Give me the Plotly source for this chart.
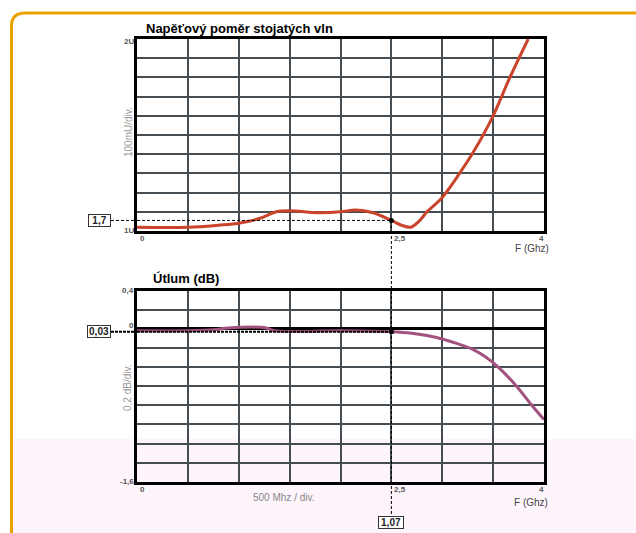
import plotly.graph_objects as go

# ---------------- data ----------------
swr_freq = [0, 0.5, 0.8, 1.0, 1.2, 1.37, 1.5, 1.79, 2.0, 2.15, 2.32, 2.5, 2.6, 2.69,
            2.77, 2.85, 3.0, 3.17, 3.31, 3.5, 3.665, 3.845]
swr_vals = [1.02, 1.02, 1.03, 1.04, 1.065, 1.10, 1.105, 1.095, 1.10, 1.11, 1.095, 1.055,
            1.03, 1.02, 1.05, 1.10, 1.175, 1.30, 1.415, 1.60, 1.80, 2.0]

att_freq = [0, 0.5, 0.75, 0.9, 1.27, 1.35, 2.0, 2.5, 2.7, 2.85, 3.0, 3.15, 3.29, 3.42,
            3.55, 3.73, 3.88, 4.0]
att_vals = [-0.02, -0.02, -0.01, 0.01, 0.01, -0.02, -0.02, -0.03, -0.045, -0.07, -0.105,
            -0.155, -0.21, -0.29, -0.4, -0.6, -0.8, -0.95]

marker_freq = 2.5
swr_marker = 1.055
att_marker = -0.03
swr_label = "1,7"
att_label = "0,03"
freq_label = "1,07"

top_title = "Napěťový poměr stojatých vln"
bottom_title = "Útlum (dB)"
top_ytitle = "100mU/div."
bottom_ytitle = "0,2 dB/div."
x_note = "500 Mhz / div."
x_title = "F (Ghz)"

top_yticks = [(2.0, "2U"), (1.0, "1U")]
bottom_yticks = [(0.4, "0,4"), (0.0, "0"), (-1.6, "-1,6")]
x_ticks = [(0, "0"), (2.5, "2,5"), (4, "4")]

# ---------------- layout geometry ----------------
W, H = 636, 533
def px(x):
    return x / W
def py(y):
    return 1 - y / H

xdom = [px(137), px(544)]
ytop_dom = [py(231), py(39)]
ybot_dom = [py(481.7), py(290.7)]

FONT = "Liberation Sans, Arial, sans-serif"
GRID = "#454d52"
SWR_COLOR = "#c9442b"
ATT_COLOR = "#a3527f"
BORDER = "#eaa200"
PINK = "#fdf4fc"

fig = go.Figure()
fig.add_trace(go.Scatter(x=swr_freq, y=swr_vals, mode="lines",
                         line=dict(color=SWR_COLOR, width=3, shape="spline", smoothing=1.0),
                         xaxis="x", yaxis="y", hoverinfo="skip"))
fig.add_trace(go.Scatter(x=att_freq, y=att_vals, mode="lines",
                         line=dict(color=ATT_COLOR, width=3, shape="spline", smoothing=1.0),
                         xaxis="x2", yaxis="y2", hoverinfo="skip"))
fig.add_trace(go.Scatter(x=[marker_freq], y=[swr_marker], mode="markers",
                         marker=dict(color="black", size=5), xaxis="x", yaxis="y",
                         hoverinfo="skip", cliponaxis=False))
fig.add_trace(go.Scatter(x=[marker_freq], y=[att_marker], mode="markers",
                         marker=dict(color="black", size=5), xaxis="x2", yaxis="y2",
                         hoverinfo="skip", cliponaxis=False))

axis_common = dict(showgrid=True, gridcolor=GRID, gridwidth=1.5, showline=True,
                   linecolor="black", linewidth=2.5, mirror=True, ticks="",
                   showticklabels=False, zeroline=False, fixedrange=True)

fig.update_layout(
    width=W, height=H, autosize=False,
    margin=dict(l=0, r=0, t=0, b=0),
    paper_bgcolor="white", plot_bgcolor="rgba(0,0,0,0)",
    showlegend=False,
    font=dict(family=FONT),
    xaxis=dict(domain=xdom, range=[0, 4], dtick=0.5, tick0=0, anchor="y", **axis_common),
    yaxis=dict(domain=ytop_dom, range=[1, 2], dtick=0.1, tick0=1, anchor="x", **axis_common),
    xaxis2=dict(domain=xdom, range=[0, 4], dtick=0.5, tick0=0, anchor="y2", **axis_common),
    yaxis2=dict(domain=ybot_dom, range=[-1.6, 0.4], dtick=0.2, tick0=0, anchor="x2",
                **{**axis_common, "zeroline": True, "zerolinecolor": "black",
                   "zerolinewidth": 2.5}),
)

shapes = []
# pink band at the bottom of the page
shapes.append(dict(type="rect", xref="paper", yref="paper", x0=px(12), x1=1, y0=0,
                   y1=py(439), fillcolor=PINK, line=dict(width=0), layer="below"))
# orange frame with rounded top-left corner
path = (f"M {px(11.5)},{py(533)} L {px(11.5)},{py(26)} "
        f"Q {px(11.5)},{py(13)} {px(25)},{py(13)} L 1,{py(13)}")
shapes.append(dict(type="path", xref="paper", yref="paper", path=path,
                   line=dict(color=BORDER, width=3), layer="below"))
# top dashed guide (outside + inside plot)
shapes.append(dict(type="line", xref="paper", yref="y", x0=px(111), x1=xdom[0],
                   y0=swr_marker, y1=swr_marker,
                   line=dict(color="black", width=1, dash="3px,2px")))
shapes.append(dict(type="line", xref="x", yref="y", x0=0, x1=marker_freq,
                   y0=swr_marker, y1=swr_marker,
                   line=dict(color="black", width=1, dash="3px,2px")))
# vertical dashed guide
shapes.append(dict(type="line", xref="x", yref="y", x0=marker_freq, x1=marker_freq,
                   y0=swr_marker, y1=1.0,
                   line=dict(color="black", width=1, dash="3px,2px")))
shapes.append(dict(type="line", xref="x", yref="paper", x0=marker_freq, x1=marker_freq,
                   y0=ytop_dom[0], y1=py(515),
                   line=dict(color="black", width=1, dash="3px,2px")))
# bottom dashed guide
shapes.append(dict(type="line", xref="paper", yref="y2", x0=px(111), x1=xdom[0],
                   y0=att_marker, y1=att_marker,
                   line=dict(color="black", width=2, dash="3px,1px")))
shapes.append(dict(type="line", xref="x2", yref="y2", x0=0, x1=marker_freq,
                   y0=att_marker, y1=att_marker,
                   line=dict(color="black", width=2, dash="3px,1px")))
fig.update_layout(shapes=shapes)

ann = []
tickfont = dict(family=FONT, size=8, color="#555555")
for v, t in top_yticks:
    ann.append(dict(xref="x", yref="y", x=0, y=v, text=f"<b>{t}</b>", showarrow=False,
                    xanchor="right", yanchor="middle", xshift=-1,
                    yshift=-3 if v == 2.0 else 0, font=tickfont))
for v, t in bottom_yticks:
    ann.append(dict(xref="x2", yref="y2", x=0, y=v, text=f"<b>{t}</b>", showarrow=False,
                    xanchor="right", yanchor="middle", xshift=-1,
                    yshift=3 if v == 0.0 else 0, font=tickfont))
for xa, ya, ybase in (("x", "y", 1.0), ("x2", "y2", -1.6)):
    for v, t in x_ticks:
        ann.append(dict(xref=xa, yref=ya, x=v, y=ybase, text=f"<b>{t}</b>", showarrow=False,
                        xanchor="left" if v < 4 else "right", yanchor="top",
                        xshift=1 if v < 4 else 2, yshift=-1, font=tickfont))
# axis titles
ann.append(dict(xref="paper", yref="paper", x=px(551), y=py(248), text=x_title,
                showarrow=False, xanchor="right", yanchor="middle",
                font=dict(family=FONT, size=10, color="#444444")))
ann.append(dict(xref="paper", yref="paper", x=px(550), y=py(502), text=x_title,
                showarrow=False, xanchor="right", yanchor="middle",
                font=dict(family=FONT, size=10, color="#444444")))
ann.append(dict(xref="paper", yref="paper", x=px(284), y=py(497), text=x_note,
                showarrow=False, xanchor="center", yanchor="middle",
                font=dict(family=FONT, size=10, color="#888888")))
ann.append(dict(xref="paper", yref="paper", x=px(128), y=py(132), text=top_ytitle,
                showarrow=False, textangle=-90, xanchor="center", yanchor="middle",
                font=dict(family=FONT, size=10, color="#999999")))
ann.append(dict(xref="paper", yref="paper", x=px(127), y=py(388), text=bottom_ytitle,
                showarrow=False, textangle=-90, xanchor="center", yanchor="middle",
                font=dict(family=FONT, size=10, color="#999999")))
# chart titles
ann.append(dict(xref="paper", yref="paper", x=px(144), y=py(28), text=f"<b>{top_title}</b>",
                showarrow=False, xanchor="left", yanchor="middle",
                font=dict(family=FONT, size=13, color="black")))
ann.append(dict(xref="paper", yref="paper", x=px(151), y=py(278), text=f"<b>{bottom_title}</b>",
                showarrow=False, xanchor="left", yanchor="middle",
                font=dict(family=FONT, size=13, color="black")))
# value boxes
boxfont = dict(family=FONT, size=10, color="#222222")
ann.append(dict(xref="paper", yref="y", x=px(111), y=swr_marker, text=f"<b>{swr_label}</b>",
                showarrow=False, xanchor="right", yanchor="middle", bgcolor="white",
                bordercolor="#333333", borderwidth=1, borderpad=0, font=boxfont, width=21))
ann.append(dict(xref="paper", yref="y2", x=px(111), y=att_marker, text=f"<b>{att_label}</b>",
                showarrow=False, xanchor="right", yanchor="middle", bgcolor="white",
                bordercolor="#333333", borderwidth=1, borderpad=0, font=boxfont, width=22))
ann.append(dict(xref="x2", yref="paper", x=marker_freq, y=py(522), text=f"<b>{freq_label}</b>",
                showarrow=False, xanchor="center", yanchor="middle", bgcolor="white",
                bordercolor="#333333", borderwidth=1, borderpad=0, font=boxfont, width=24))
fig.update_layout(annotations=ann)

fig.write_html("out.html", config={"displayModeBar": False},
               post_script="document.body.style.margin='0px';"
                           "document.body.style.overflow='hidden';")
